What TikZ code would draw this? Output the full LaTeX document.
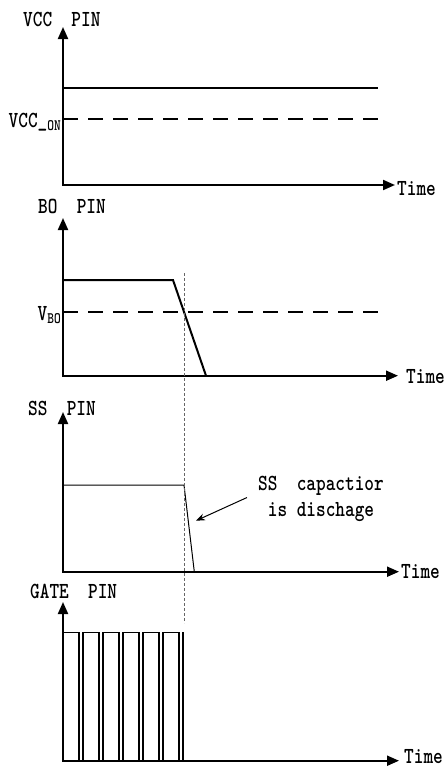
\documentclass[tikz,border=0pt]{standalone}
\usepackage{fontspec}
\setmonofont[Extension=.otf, FakeStretch=0.8]{lmmonolt10-bold}
\usetikzlibrary{arrows.meta}
\tikzset{
  axispath/.style={line width=2pt, line join=miter,
    {Triangle[length=12pt,width=10pt]}-{Triangle[length=12pt,width=10pt]}},
  lbl/.style={font=\ttfamily\fontsize{23}{25}\selectfont, inner sep=0pt},
  sublbl/.style={font=\ttfamily\fontsize{23}{25}\selectfont, inner sep=0pt, anchor=base east},
  sig/.style={line width=2pt, line join=miter},
  thinsig/.style={line width=1pt},
  gatew/.style={line width=1.5pt},
  thr/.style={line width=2pt, dash pattern=on 15pt off 10pt},
  marker/.style={black!60, line width=1pt, dash pattern=on 3pt off 2pt},
  note/.style={line width=1pt, -{Stealth[length=9pt,width=7pt]}},
}
\newcommand{\subtx}[1]{\raisebox{-3pt}{\fontsize{16}{16}\selectfont #1}}
\begin{document}
\begin{tikzpicture}[x=1pt,y=-1pt]
\useasboundingbox (0,0) rectangle (446,769);

% ---------- VCC panel ----------
\coordinate (o1) at (63,185);
\coordinate (y1) at (63,27);
\coordinate (x1) at (395,185);
\draw[axispath] (y1) -- (o1) -- (x1);
\node[lbl, anchor=base west] (vcct) at (23,26) {VCC~~PIN};
\node[lbl, anchor=base west] (time1) at (397,195) {Time};
\coordinate (vccA) at (63,87.7);
\coordinate (vccB) at (378,87.7);
\draw[sig] (vccA) -- (vccB);
\coordinate (vonA) at (63,119.3);
\coordinate (vonB) at (378,119.3);
\draw[thr] (vonA) -- (vonB);
\node[sublbl] (vccon) at (61,127) {VCC\_\subtx{ON}};

% ---------- BO panel ----------
\coordinate (o2) at (63,375.7);
\coordinate (y2) at (63,218);
\coordinate (x2) at (398,375.7);
\draw[axispath] (y2) -- (o2) -- (x2);
\node[lbl, anchor=base west] (bot) at (38,213) {BO~~PIN};
\node[lbl, anchor=base west] (time2) at (406,383) {Time};
\coordinate (boA) at (63,280);
\coordinate (boB) at (173,280);
\coordinate (boC) at (206,375.7);
\draw[sig] (boA) -- (boB) -- (boC);
\coordinate (vboA) at (63,311.7);
\coordinate (vboB) at (380,311.7);
\draw[thr] (vboA) -- (vboB);
\node[sublbl] (vbo) at (61,320) {V\subtx{BO}};

% ---------- SS panel ----------
\coordinate (o3) at (63,571.7);
\coordinate (y3) at (63,412);
\coordinate (x3) at (399,571.7);
\draw[axispath] (y3) -- (o3) -- (x3);
\node[lbl, anchor=base west] (sst) at (28,415) {SS~~PIN};
\node[lbl, anchor=base west] (time3) at (401,578) {Time};
\coordinate (ssA) at (63,485);
\coordinate (ssB) at (184,485);
\coordinate (ssC) at (194.3,571.7);
\draw[thinsig] (ssA) -- (ssB) -- (ssC);
\node[lbl, anchor=base] (cap1) at (321,490) {SS~~capactior};
\node[lbl, anchor=base] (cap2) at (321,516.5) {is dischage};
\coordinate (noteS) at (247,497.5);
\coordinate (noteE) at (196,520.7);
\draw[note] (noteS) -- (noteE);

% ---------- GATE panel ----------
\coordinate (o4) at (63,760.7);
\coordinate (y4) at (63,602);
\coordinate (x4) at (399,760.7);
\draw[axispath] (y4) -- (o4) -- (x4);
\node[lbl, anchor=base west] (gatet) at (30,598) {GATE~~PIN};
\node[lbl, anchor=base west] (time4) at (404,763) {Time};
\draw[gatew] (63,632.3)
  foreach \i in {0,...,5} {
    -- ({63+20*\i+16},632.3) -- ({63+20*\i+16},760.7)
    -- ({63+20*\i+20},760.7) -- ({63+20*\i+20},632.3)
  };

% ---------- marker ----------
\coordinate (mkA) at (184,273);
\coordinate (mkB) at (184,623);
\draw[marker] (mkA) -- (mkB);
\end{tikzpicture}
\end{document}
